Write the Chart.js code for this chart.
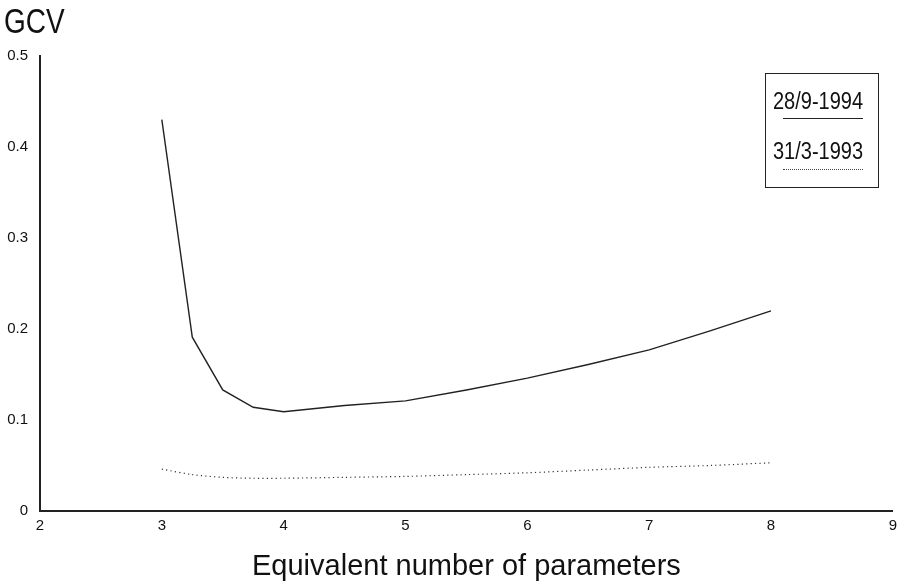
<!DOCTYPE html>
<html lang="en">
<head>
<meta charset="UTF-8">
<title>GCV vs Equivalent number of parameters</title>
<script src="https://cdn.jsdelivr.net/npm/chart.js"></script>
<style>
  body { margin: 0; background: #fff; }
  .wrap { position: relative; width: 903px; height: 588px; font-family: 'Liberation Sans', Arial, sans-serif; color: #111; }
  .gcv { position: absolute; left: 4px; top: 1px; font-size: 35px; line-height: 40px; transform: scaleX(0.8); transform-origin: left top; }
  /* legenda feita em HTML, igual ao box do original */
  .legend { position: absolute; left: 765px; top: 73px; width: 114px; height: 115px; border: 1px solid #222; box-sizing: border-box; }
  .legend .item { position: absolute; left: -4px; width: 100%; text-align: center; font-size: 23px; line-height: 26px; transform: scaleX(0.87); }
  .legend .line { position: absolute; left: 17px; width: 80px; height: 0; }
</style>
</head>
<body>
<div class="wrap">
  <canvas id="myChart" width="903" height="588"></canvas>
  <div class="gcv">GCV</div>
  <div class="legend">
    <div class="item" style="top: 14px;">28/9-1994</div>
    <div class="line" style="top: 44px; border-top: 1.5px solid #222;"></div>
    <div class="item" style="top: 64px;">31/3-1993</div>
    <div class="line" style="top: 95px; border-top: 1.5px dotted #444;"></div>
  </div>
</div>
<script>
  const params = [3, 3.25, 3.5, 3.75, 4, 4.5, 5, 5.5, 6, 6.5, 7, 7.5, 8];
  const gcv1994 = [0.430, 0.191, 0.133, 0.114, 0.109, 0.116, 0.121, 0.133, 0.146, 0.161, 0.177, 0.198, 0.220];
  const gcv1993 = [0.046, 0.040, 0.037, 0.036, 0.036, 0.037, 0.038, 0.040, 0.042, 0.045, 0.048, 0.050, 0.053];
  const xTicks = [2, 3, 4, 5, 6, 7, 8, 9];
  const yTicks = [0, 0.1, 0.2, 0.3, 0.4, 0.5];

  const fontFam = "'Liberation Sans', Arial, sans-serif";
  const toXY = (xs, ys) => xs.map((x, i) => ({ x: x, y: ys[i] }));

  const ctx = document.getElementById('myChart').getContext('2d');
  new Chart(ctx, {
    type: 'line',
    data: {
      datasets: [
        {
          label: '28/9-1994',
          data: toXY(params, gcv1994),
          borderColor: '#222',
          borderWidth: 1.4,
          pointRadius: 0,
          tension: 0
        },
        {
          label: '31/3-1993',
          data: toXY(params, gcv1993),
          borderColor: '#333',
          borderWidth: 1.2,
          borderDash: [1.2, 3.2],
          pointRadius: 0,
          tension: 0.3
        }
      ]
    },
    options: {
      responsive: false,
      animation: false,
      layout: { padding: { top: 56, right: 9, left: 0, bottom: 0 } },
      plugins: {
        legend: { display: false },
        tooltip: { enabled: false }
      },
      scales: {
        x: {
          type: 'linear',
          min: 2,
          max: 9,
          grid: { display: false, drawTicks: false },
          border: { display: true, color: '#222', width: 2 },
          afterBuildTicks: axis => { axis.ticks = xTicks.map(v => ({ value: v })); },
          afterFit: axis => { axis.height = 77; },
          ticks: {
            color: '#111',
            padding: 6,
            maxRotation: 0,
            font: { family: fontFam, size: 15 },
            callback: v => String(v)
          },
          title: {
            display: true,
            text: 'Equivalent number of parameters',
            color: '#111',
            font: { family: fontFam, size: 29 },
            padding: { top: 7 }
          }
        },
        y: {
          min: 0,
          max: 0.5,
          grid: { display: false, drawTicks: false },
          border: { display: true, color: '#222', width: 2 },
          afterBuildTicks: axis => { axis.ticks = yTicks.map(v => ({ value: v })); },
          afterFit: axis => { axis.width = 40; },
          ticks: {
            color: '#111',
            padding: 12,
            font: { family: fontFam, size: 15 },
            callback: v => String(v)
          }
        }
      }
    }
  });
</script>
</body>
</html>
